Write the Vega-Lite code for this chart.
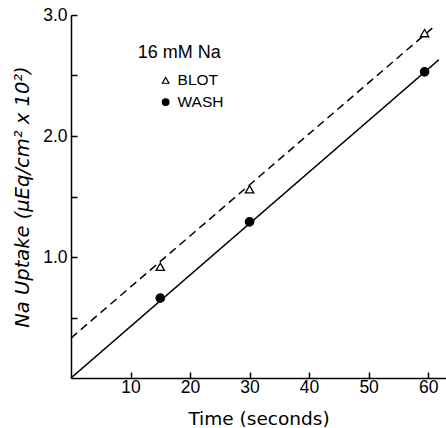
{
  "$schema": "https://vega.github.io/schema/vega-lite/v6.json",
  "width": 375,
  "height": 363,
  "autosize": {"type": "none"},
  "padding": {"left": 71, "top": 15, "right": 0, "bottom": 50},
  "background": "white",
  "config": {
    "view": {"stroke": null},
    "axis": {
      "grid": false,
      "domainColor": "black",
      "domainWidth": 1.5,
      "labelColor": "black",
      "labelFont": "Liberation Sans",
      "labelFontSize": 17.5,
      "titleColor": "black",
      "titleFont": "DejaVu Sans",
      "titleFontWeight": "normal",
      "titleFontSize": 18.5
    }
  },
  "datasets": {
    "points": [
      {"method": "BLOT", "time": 15, "uptake": 0.92},
      {"method": "BLOT", "time": 30, "uptake": 1.56},
      {"method": "BLOT", "time": 59.4, "uptake": 2.85},
      {"method": "WASH", "time": 15, "uptake": 0.66},
      {"method": "WASH", "time": 30, "uptake": 1.29},
      {"method": "WASH", "time": 59.4, "uptake": 2.53}
    ],
    "fits": [
      {"method": "BLOT", "time": 0, "uptake": 0.33},
      {"method": "BLOT", "time": 60.9, "uptake": 2.9},
      {"method": "WASH", "time": 0, "uptake": 0},
      {"method": "WASH", "time": 61.8, "uptake": 2.63}
    ],
    "header": [
      {"label": "16 mM Na", "time": 11.2, "uptake": 2.69}
    ],
    "key": [
      {"method": "BLOT", "time": 15.9, "uptake": 2.46, "labelTime": 17.9},
      {"method": "WASH", "time": 15.9, "uptake": 2.28, "labelTime": 17.9}
    ]
  },
  "encoding": {
    "x": {
      "field": "time",
      "type": "quantitative",
      "scale": {"domain": [0, 63], "nice": false},
      "axis": {
        "values": [10, 20, 30, 40, 50, 60],
        "ticks": true,
        "tickColor": "black",
        "tickWidth": 1.5,
        "tickSize": -6,
        "labelPadding": 6,
        "title": "Time (seconds)",
        "titlePadding": 14
      }
    },
    "y": {
      "field": "uptake",
      "type": "quantitative",
      "scale": {"domain": [0, 3], "nice": false},
      "axis": {
        "values": [0.5, 1, 1.5, 2, 2.5, 3],
        "ticks": true,
        "tickColor": "black",
        "tickWidth": 1.5,
        "tickSize": -6,
        "labelExpr": "datum.value % 1 === 0 ? format(datum.value, '.1f') : ''",
        "labelPadding": 10,
        "title": "Na Uptake (μEq/cm² x 10²)",
        "titleFontStyle": "italic",
        "titleFontSize": 19.5,
        "titlePadding": 10
      }
    }
  },
  "layer": [
    {
      "data": {"name": "fits"},
      "mark": {"type": "line", "color": "black", "strokeWidth": 1.5},
      "encoding": {
        "detail": {"field": "method"},
        "strokeDash": {
          "field": "method",
          "type": "nominal",
          "scale": {"domain": ["BLOT", "WASH"], "range": [[8, 5], [1, 0]]},
          "legend": null
        }
      }
    },
    {
      "data": {"name": "header"},
      "mark": {"type": "text", "align": "left", "baseline": "middle", "font": "Liberation Sans", "fontSize": 18, "color": "black"},
      "encoding": {
        "text": {"field": "label"}
      }
    },
    {
      "data": {"name": "key"},
      "mark": {"type": "text", "align": "left", "baseline": "middle", "font": "Liberation Sans", "fontSize": 15.5, "color": "black"},
      "encoding": {
        "x": {"field": "labelTime", "type": "quantitative"},
        "text": {"field": "method"}
      }
    },
    {
      "data": {"name": "key"},
      "mark": {"type": "point", "stroke": "black", "strokeWidth": 1.2, "size": 45, "opacity": 1},
      "encoding": {
        "shape": {
          "field": "method",
          "type": "nominal",
          "scale": {"domain": ["BLOT", "WASH"], "range": ["triangle-up", "circle"]},
          "legend": null
        },
        "fill": {
          "field": "method",
          "type": "nominal",
          "scale": {"domain": ["BLOT", "WASH"], "range": ["white", "black"]},
          "legend": null
        }
      }
    },
    {
      "data": {"name": "points"},
      "mark": {"type": "point", "stroke": "black", "strokeWidth": 1.3, "size": 70, "opacity": 1},
      "encoding": {
        "shape": {
          "field": "method",
          "type": "nominal",
          "scale": {"domain": ["BLOT", "WASH"], "range": ["triangle-up", "circle"]},
          "legend": null
        },
        "fill": {
          "field": "method",
          "type": "nominal",
          "scale": {"domain": ["BLOT", "WASH"], "range": ["white", "black"]},
          "legend": null
        }
      }
    }
  ]
}
